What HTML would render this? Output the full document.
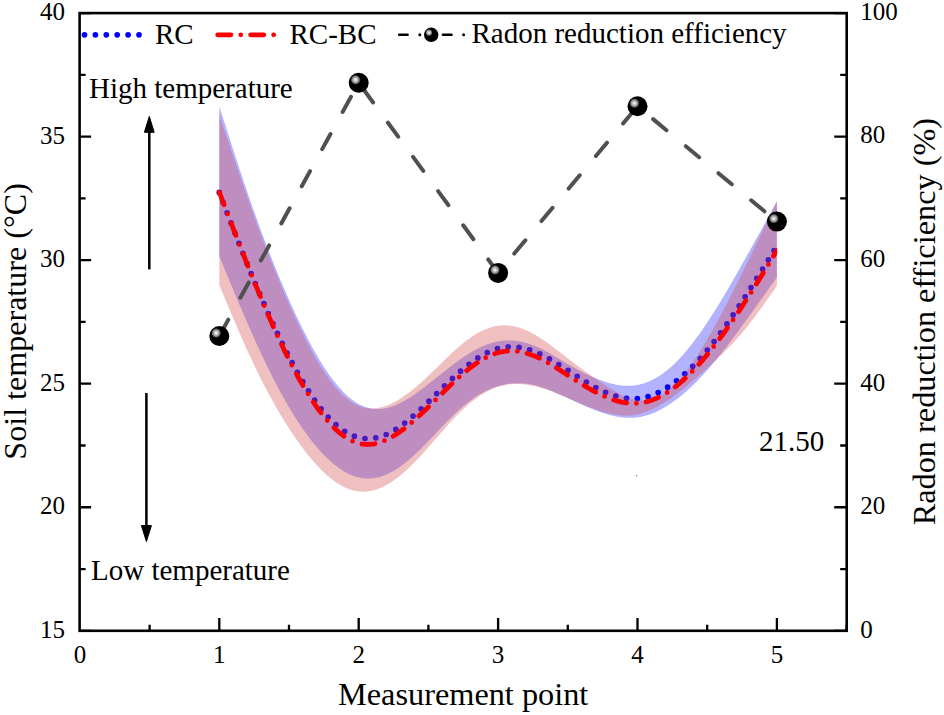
<!DOCTYPE html>
<html><head><meta charset="utf-8"><title>Soil temperature and radon reduction</title>
<style>html,body{margin:0;padding:0;background:#fff;}svg{display:block;}</style></head>
<body><svg width="944" height="715" viewBox="0 0 944 715"><defs>
<radialGradient id="ball" cx="0.345" cy="0.35" r="0.55" fx="0.345" fy="0.35">
<stop offset="0" stop-color="#ffffff"/>
<stop offset="0.12" stop-color="#d8d8d8"/>
<stop offset="0.32" stop-color="#808080"/>
<stop offset="0.45" stop-color="#000000"/>
<stop offset="1" stop-color="#000000"/>
</radialGradient>
<clipPath id="plot"><rect x="79.6" y="13.1" width="767.1" height="617.7"/></clipPath>
<clipPath id="lc"><rect x="79.6" y="13.1" width="697.6" height="617.7"/></clipPath>
</defs><rect x="0" y="0" width="944" height="715" fill="#fff"/><g clip-path="url(#plot)"><path d="M219.30,106.38 220.70,110.74 222.09,115.10 223.49,119.46 224.89,123.82 226.29,128.17 227.68,132.52 229.08,136.85 230.48,141.18 231.88,145.49 233.27,149.80 234.67,154.08 236.07,158.36 237.47,162.62 238.86,166.86 240.26,171.08 241.66,175.28 243.06,179.45 244.45,183.61 245.85,187.74 247.25,191.84 248.65,195.92 250.04,199.97 251.44,203.98 252.84,207.97 254.24,211.92 255.63,215.84 257.03,219.73 258.43,223.58 259.83,227.39 261.22,231.18 262.62,234.93 264.02,238.64 265.42,242.33 266.81,245.98 268.21,249.60 269.61,253.18 271.01,256.74 272.40,260.26 273.80,263.75 275.20,267.21 276.60,270.64 277.99,274.03 279.39,277.40 280.79,280.73 282.19,284.03 283.58,287.30 284.98,290.54 286.38,293.76 287.78,296.94 289.17,300.09 290.57,303.21 291.97,306.30 293.37,309.36 294.76,312.39 296.16,315.38 297.56,318.34 298.96,321.27 300.35,324.16 301.75,327.02 303.15,329.84 304.55,332.62 305.94,335.36 307.34,338.06 308.74,340.73 310.14,343.35 311.53,345.93 312.93,348.47 314.33,350.97 315.73,353.43 317.12,355.84 318.52,358.20 319.92,360.52 321.32,362.79 322.71,365.02 324.11,367.19 325.51,369.32 326.91,371.40 328.30,373.43 329.70,375.41 331.10,377.33 332.50,379.21 333.89,381.03 335.29,382.80 336.69,384.52 338.09,386.18 339.48,387.79 340.88,389.34 342.28,390.83 343.68,392.27 345.07,393.66 346.47,394.98 347.87,396.25 349.27,397.46 350.66,398.61 352.06,399.70 353.46,400.72 354.86,401.69 356.25,402.60 357.65,403.44 359.05,404.22 360.45,404.94 361.84,405.60 363.24,406.19 364.64,406.73 366.04,407.20 367.43,407.62 368.83,407.98 370.23,408.29 371.63,408.53 373.02,408.73 374.42,408.87 375.82,408.96 377.22,408.99 378.61,408.98 380.01,408.91 381.41,408.80 382.81,408.64 384.20,408.43 385.60,408.18 387.00,407.88 388.40,407.53 389.79,407.15 391.19,406.72 392.59,406.25 393.99,405.74 395.38,405.18 396.78,404.60 398.18,403.97 399.58,403.31 400.97,402.62 402.37,401.89 403.77,401.13 405.17,400.34 406.56,399.53 407.96,398.68 409.36,397.81 410.76,396.91 412.15,396.00 413.55,395.06 414.95,394.09 416.35,393.11 417.74,392.11 419.14,391.10 420.54,390.07 421.94,389.02 423.33,387.96 424.73,386.89 426.13,385.82 427.53,384.73 428.92,383.63 430.32,382.53 431.72,381.42 433.12,380.31 434.51,379.20 435.91,378.08 437.31,376.96 438.71,375.85 440.10,374.73 441.50,373.62 442.90,372.50 444.30,371.40 445.69,370.30 447.09,369.20 448.49,368.11 449.89,367.03 451.28,365.96 452.68,364.89 454.08,363.84 455.48,362.81 456.87,361.78 458.27,360.77 459.67,359.77 461.07,358.80 462.46,357.83 463.86,356.89 465.26,355.97 466.66,355.06 468.05,354.18 469.45,353.31 470.85,352.47 472.25,351.65 473.64,350.86 475.04,350.09 476.44,349.34 477.84,348.62 479.23,347.92 480.63,347.25 482.03,346.61 483.43,346.00 484.82,345.41 486.22,344.85 487.62,344.33 489.02,343.83 490.41,343.37 491.81,342.93 493.21,342.53 494.61,342.16 496.00,341.83 497.40,341.53 498.80,341.26 500.20,341.03 501.59,340.84 502.99,340.68 504.39,340.55 505.79,340.46 507.18,340.40 508.58,340.38 509.98,340.39 511.38,340.44 512.77,340.51 514.17,340.62 515.57,340.76 516.97,340.94 518.36,341.15 519.76,341.39 521.16,341.66 522.56,341.96 523.95,342.29 525.35,342.65 526.75,343.05 528.15,343.47 529.54,343.93 530.94,344.41 532.34,344.93 533.74,345.47 535.13,346.05 536.53,346.65 537.93,347.27 539.33,347.92 540.72,348.59 542.12,349.29 543.52,350.00 544.92,350.73 546.31,351.48 547.71,352.24 549.11,353.02 550.51,353.81 551.90,354.61 553.30,355.42 554.70,356.24 556.10,357.06 557.49,357.89 558.89,358.73 560.29,359.56 561.69,360.40 563.08,361.24 564.48,362.07 565.88,362.90 567.28,363.72 568.67,364.54 570.07,365.35 571.47,366.16 572.87,366.95 574.26,367.74 575.66,368.51 577.06,369.28 578.46,370.03 579.85,370.78 581.25,371.51 582.65,372.23 584.05,372.94 585.44,373.64 586.84,374.32 588.24,374.99 589.64,375.64 591.03,376.28 592.43,376.91 593.83,377.51 595.23,378.11 596.62,378.68 598.02,379.24 599.42,379.78 600.82,380.30 602.21,380.80 603.61,381.29 605.01,381.75 606.41,382.19 607.80,382.61 609.20,383.01 610.60,383.39 612.00,383.74 613.39,384.07 614.79,384.37 616.19,384.64 617.59,384.88 618.98,385.10 620.38,385.29 621.78,385.45 623.18,385.57 624.57,385.67 625.97,385.73 627.37,385.76 628.77,385.76 630.16,385.72 631.56,385.64 632.96,385.53 634.36,385.38 635.75,385.19 637.15,384.96 638.55,384.69 639.95,384.38 641.34,384.03 642.74,383.64 644.14,383.21 645.54,382.74 646.93,382.22 648.33,381.67 649.73,381.08 651.13,380.44 652.52,379.77 653.92,379.05 655.32,378.29 656.72,377.49 658.11,376.65 659.51,375.77 660.91,374.85 662.31,373.88 663.70,372.88 665.10,371.83 666.50,370.74 667.90,369.61 669.29,368.44 670.69,367.22 672.09,365.97 673.49,364.67 674.88,363.33 676.28,361.95 677.68,360.53 679.08,359.07 680.47,357.58 681.87,356.04 683.27,354.47 684.67,352.86 686.06,351.22 687.46,349.54 688.86,347.82 690.26,346.08 691.65,344.30 693.05,342.49 694.45,340.64 695.85,338.77 697.24,336.87 698.64,334.94 700.04,332.98 701.44,330.99 702.83,328.97 704.23,326.93 705.63,324.86 707.03,322.77 708.42,320.65 709.82,318.51 711.22,316.35 712.62,314.16 714.01,311.96 715.41,309.73 716.81,307.48 718.21,305.22 719.60,302.94 721.00,300.63 722.40,298.32 723.80,295.98 725.19,293.63 726.59,291.27 727.99,288.89 729.39,286.50 730.78,284.10 732.18,281.68 733.58,279.26 734.98,276.82 736.37,274.38 737.77,271.92 739.17,269.46 740.57,266.99 741.96,264.52 743.36,262.03 744.76,259.55 746.16,257.06 747.55,254.56 748.95,252.06 750.35,249.55 751.75,247.04 753.14,244.53 754.54,242.01 755.94,239.49 757.34,236.96 758.73,234.43 760.13,231.90 761.53,229.37 762.93,226.83 764.32,224.29 765.72,221.75 767.12,219.21 768.52,216.66 769.91,214.12 771.31,211.57 772.71,209.02 774.11,206.47 775.50,203.92 776.90,201.37 L776.90,277.19 775.50,279.17 774.11,281.15 772.71,283.13 771.31,285.11 769.91,287.09 768.52,289.07 767.12,291.04 765.72,293.02 764.32,294.99 762.93,296.96 761.53,298.93 760.13,300.90 758.73,302.86 757.34,304.82 755.94,306.78 754.54,308.73 753.14,310.68 751.75,312.63 750.35,314.57 748.95,316.51 747.55,318.44 746.16,320.37 744.76,322.29 743.36,324.21 741.96,326.12 740.57,328.03 739.17,329.93 737.77,331.83 736.37,333.71 734.98,335.59 733.58,337.46 732.18,339.32 730.78,341.17 729.39,343.01 727.99,344.83 726.59,346.65 725.19,348.45 723.80,350.24 722.40,352.02 721.00,353.78 719.60,355.53 718.21,357.26 716.81,358.98 715.41,360.68 714.01,362.36 712.62,364.02 711.22,365.66 709.82,367.29 708.42,368.89 707.03,370.48 705.63,372.04 704.23,373.58 702.83,375.11 701.44,376.60 700.04,378.08 698.64,379.54 697.24,380.97 695.85,382.38 694.45,383.76 693.05,385.13 691.65,386.46 690.26,387.78 688.86,389.07 687.46,390.34 686.06,391.58 684.67,392.80 683.27,393.99 681.87,395.16 680.47,396.30 679.08,397.41 677.68,398.50 676.28,399.57 674.88,400.61 673.49,401.62 672.09,402.60 670.69,403.56 669.29,404.48 667.90,405.38 666.50,406.26 665.10,407.10 663.70,407.91 662.31,408.70 660.91,409.45 659.51,410.18 658.11,410.87 656.72,411.54 655.32,412.17 653.92,412.77 652.52,413.34 651.13,413.88 649.73,414.38 648.33,414.85 646.93,415.29 645.54,415.70 644.14,416.07 642.74,416.40 641.34,416.70 639.95,416.97 638.55,417.20 637.15,417.39 635.75,417.55 634.36,417.68 632.96,417.76 631.56,417.82 630.16,417.84 628.77,417.84 627.37,417.80 625.97,417.73 624.57,417.63 623.18,417.50 621.78,417.34 620.38,417.16 618.98,416.95 617.59,416.72 616.19,416.46 614.79,416.18 613.39,415.87 612.00,415.55 610.60,415.20 609.20,414.83 607.80,414.44 606.41,414.03 605.01,413.61 603.61,413.16 602.21,412.70 600.82,412.23 599.42,411.74 598.02,411.23 596.62,410.72 595.23,410.19 593.83,409.64 592.43,409.09 591.03,408.52 589.64,407.95 588.24,407.36 586.84,406.76 585.44,406.16 584.05,405.55 582.65,404.93 581.25,404.31 579.85,403.68 578.46,403.04 577.06,402.41 575.66,401.76 574.26,401.12 572.87,400.47 571.47,399.82 570.07,399.17 568.67,398.52 567.28,397.87 565.88,397.22 564.48,396.57 563.08,395.93 561.69,395.29 560.29,394.65 558.89,394.03 557.49,393.41 556.10,392.79 554.70,392.19 553.30,391.60 551.90,391.02 550.51,390.46 549.11,389.90 547.71,389.36 546.31,388.84 544.92,388.34 543.52,387.85 542.12,387.39 540.72,386.94 539.33,386.51 537.93,386.11 536.53,385.73 535.13,385.37 533.74,385.05 532.34,384.74 530.94,384.47 529.54,384.22 528.15,384.00 526.75,383.80 525.35,383.64 523.95,383.50 522.56,383.39 521.16,383.31 519.76,383.26 518.36,383.24 516.97,383.24 515.57,383.27 514.17,383.33 512.77,383.43 511.38,383.55 509.98,383.70 508.58,383.87 507.18,384.08 505.79,384.32 504.39,384.59 502.99,384.89 501.59,385.21 500.20,385.57 498.80,385.96 497.40,386.38 496.00,386.83 494.61,387.31 493.21,387.82 491.81,388.36 490.41,388.93 489.02,389.53 487.62,390.17 486.22,390.83 484.82,391.52 483.43,392.25 482.03,393.00 480.63,393.79 479.23,394.61 477.84,395.46 476.44,396.34 475.04,397.24 473.64,398.19 472.25,399.16 470.85,400.16 469.45,401.19 468.05,402.26 466.66,403.35 465.26,404.48 463.86,405.64 462.46,406.82 461.07,408.04 459.67,409.29 458.27,410.56 456.87,411.86 455.48,413.18 454.08,414.53 452.68,415.89 451.28,417.28 449.89,418.68 448.49,420.09 447.09,421.52 445.69,422.96 444.30,424.42 442.90,425.88 441.50,427.34 440.10,428.82 438.71,430.30 437.31,431.78 435.91,433.26 434.51,434.74 433.12,436.21 431.72,437.69 430.32,439.15 428.92,440.61 427.53,442.06 426.13,443.50 424.73,444.93 423.33,446.34 421.94,447.74 420.54,449.13 419.14,450.49 417.74,451.84 416.35,453.17 414.95,454.48 413.55,455.77 412.15,457.03 410.76,458.27 409.36,459.48 407.96,460.67 406.56,461.83 405.17,462.95 403.77,464.05 402.37,465.12 400.97,466.15 399.58,467.14 398.18,468.11 396.78,469.03 395.38,469.91 393.99,470.76 392.59,471.56 391.19,472.33 389.79,473.05 388.40,473.73 387.00,474.36 385.60,474.95 384.20,475.50 382.81,476.01 381.41,476.47 380.01,476.89 378.61,477.26 377.22,477.58 375.82,477.86 374.42,478.10 373.02,478.29 371.63,478.43 370.23,478.53 368.83,478.58 367.43,478.58 366.04,478.53 364.64,478.43 363.24,478.29 361.84,478.10 360.45,477.85 359.05,477.56 357.65,477.22 356.25,476.83 354.86,476.38 353.46,475.89 352.06,475.36 350.66,474.77 349.27,474.14 347.87,473.45 346.47,472.73 345.07,471.95 343.68,471.13 342.28,470.27 340.88,469.36 339.48,468.41 338.09,467.41 336.69,466.37 335.29,465.28 333.89,464.16 332.50,462.99 331.10,461.78 329.70,460.53 328.30,459.24 326.91,457.91 325.51,456.54 324.11,455.13 322.71,453.68 321.32,452.19 319.92,450.66 318.52,449.10 317.12,447.50 315.73,445.86 314.33,444.18 312.93,442.46 311.53,440.71 310.14,438.91 308.74,437.08 307.34,435.22 305.94,433.31 304.55,431.37 303.15,429.39 301.75,427.37 300.35,425.31 298.96,423.22 297.56,421.10 296.16,418.93 294.76,416.73 293.37,414.49 291.97,412.21 290.57,409.90 289.17,407.55 287.78,405.17 286.38,402.75 284.98,400.30 283.58,397.81 282.19,395.28 280.79,392.72 279.39,390.13 277.99,387.51 276.60,384.85 275.20,382.17 273.80,379.45 272.40,376.70 271.01,373.93 269.61,371.12 268.21,368.28 266.81,365.42 265.42,362.53 264.02,359.61 262.62,356.67 261.22,353.70 259.83,350.70 258.43,347.68 257.03,344.64 255.63,341.57 254.24,338.47 252.84,335.36 251.44,332.22 250.04,329.07 248.65,325.89 247.25,322.69 245.85,319.48 244.45,316.25 243.06,313.00 241.66,309.74 240.26,306.46 238.86,303.17 237.47,299.86 236.07,296.54 234.67,293.22 233.27,289.88 231.88,286.53 230.48,283.18 229.08,279.82 227.68,276.45 226.29,273.08 224.89,269.70 223.49,266.32 222.09,262.93 220.70,259.55 219.30,256.16 Z" fill="rgb(0,0,255)" fill-opacity="0.3"/><path clip-path="url(#lc)" d="M219.30,192.42 220.70,196.06 222.09,199.70 223.49,203.34 224.89,206.97 226.29,210.60 227.68,214.23 229.08,217.85 230.48,221.46 231.88,225.07 233.27,228.67 234.67,232.26 236.07,235.84 237.47,239.41 238.86,242.97 240.26,246.51 241.66,250.04 243.06,253.56 244.45,257.06 245.85,260.54 247.25,264.01 248.65,267.46 250.04,270.88 251.44,274.29 252.84,277.68 254.24,281.05 255.63,284.39 257.03,287.71 258.43,291.01 259.83,294.28 261.22,297.53 262.62,300.76 264.02,303.96 265.42,307.13 266.81,310.28 268.21,313.41 269.61,316.51 271.01,319.58 272.40,322.62 273.80,325.64 275.20,328.63 276.60,331.60 277.99,334.53 279.39,337.44 280.79,340.32 282.19,343.17 283.58,346.00 284.98,348.79 286.38,351.55 287.78,354.28 289.17,356.99 290.57,359.66 291.97,362.30 293.37,364.90 294.76,367.48 296.16,370.02 297.56,372.52 298.96,374.99 300.35,377.43 301.75,379.82 303.15,382.18 304.55,384.50 305.94,386.78 307.34,389.02 308.74,391.22 310.14,393.37 311.53,395.48 312.93,397.55 314.33,399.57 315.73,401.55 317.12,403.48 318.52,405.37 319.92,407.20 321.32,408.99 322.71,410.73 324.11,412.41 325.51,414.05 326.91,415.63 328.30,417.17 329.70,418.65 331.10,420.08 332.50,421.45 333.89,422.78 335.29,424.05 336.69,425.27 338.09,426.44 339.48,427.56 340.88,428.62 342.28,429.63 343.68,430.59 345.07,431.49 346.47,432.34 347.87,433.14 349.27,433.88 350.66,434.57 352.06,435.20 353.46,435.78 354.86,436.31 356.25,436.78 357.65,437.20 359.05,437.56 360.45,437.87 361.84,438.12 363.24,438.33 364.64,438.47 366.04,438.57 367.43,438.61 368.83,438.61 370.23,438.55 371.63,438.44 373.02,438.28 374.42,438.08 375.82,437.83 377.22,437.53 378.61,437.18 380.01,436.79 381.41,436.36 382.81,435.88 384.20,435.35 385.60,434.78 387.00,434.17 388.40,433.52 389.79,432.82 391.19,432.09 392.59,431.31 393.99,430.50 395.38,429.65 396.78,428.76 398.18,427.83 399.58,426.87 400.97,425.87 402.37,424.85 403.77,423.79 405.17,422.71 406.56,421.60 407.96,420.46 409.36,419.30 410.76,418.11 412.15,416.90 413.55,415.67 414.95,414.43 416.35,413.16 417.74,411.88 419.14,410.58 420.54,409.27 421.94,407.95 423.33,406.62 424.73,405.28 426.13,403.93 427.53,402.57 428.92,401.21 430.32,399.84 431.72,398.47 433.12,397.10 434.51,395.73 435.91,394.35 437.31,392.98 438.71,391.61 440.10,390.24 441.50,388.88 442.90,387.52 444.30,386.17 445.69,384.82 447.09,383.48 448.49,382.15 449.89,380.83 451.28,379.52 452.68,378.22 454.08,376.94 455.48,375.66 456.87,374.41 458.27,373.16 459.67,371.94 461.07,370.73 462.46,369.54 463.86,368.36 465.26,367.21 466.66,366.08 468.05,364.97 469.45,363.89 470.85,362.83 472.25,361.79 473.64,360.78 475.04,359.80 476.44,358.84 477.84,357.91 479.23,357.02 480.63,356.15 482.03,355.32 483.43,354.52 484.82,353.76 486.22,353.02 487.62,352.33 489.02,351.67 490.41,351.05 491.81,350.47 493.21,349.93 494.61,349.43 496.00,348.97 497.40,348.55 498.80,348.18 500.20,347.85 501.59,347.57 502.99,347.32 504.39,347.12 505.79,346.97 507.18,346.85 508.58,346.77 509.98,346.73 511.38,346.73 512.77,346.77 514.17,346.84 515.57,346.95 516.97,347.10 518.36,347.28 519.76,347.50 521.16,347.75 522.56,348.03 523.95,348.35 525.35,348.70 526.75,349.08 528.15,349.49 529.54,349.93 530.94,350.40 532.34,350.89 533.74,351.42 535.13,351.97 536.53,352.55 537.93,353.16 539.33,353.78 540.72,354.43 542.12,355.11 543.52,355.80 544.92,356.52 546.31,357.25 547.71,358.00 549.11,358.77 550.51,359.55 551.90,360.35 553.30,361.17 554.70,361.99 556.10,362.83 557.49,363.68 558.89,364.54 560.29,365.41 561.69,366.29 563.08,367.17 564.48,368.06 565.88,368.96 567.28,369.86 568.67,370.76 570.07,371.66 571.47,372.57 572.87,373.48 574.26,374.38 575.66,375.28 577.06,376.19 578.46,377.08 579.85,377.97 581.25,378.86 582.65,379.74 584.05,380.61 585.44,381.47 586.84,382.32 588.24,383.16 589.64,383.99 591.03,384.81 592.43,385.61 593.83,386.40 595.23,387.17 596.62,387.93 598.02,388.66 599.42,389.38 600.82,390.08 602.21,390.75 603.61,391.41 605.01,392.04 606.41,392.65 607.80,393.23 609.20,393.79 610.60,394.33 612.00,394.84 613.39,395.32 614.79,395.77 616.19,396.19 617.59,396.59 618.98,396.95 620.38,397.28 621.78,397.58 623.18,397.85 624.57,398.09 625.97,398.29 627.37,398.46 628.77,398.59 630.16,398.69 631.56,398.75 632.96,398.77 634.36,398.76 635.75,398.70 637.15,398.61 638.55,398.47 639.95,398.30 641.34,398.09 642.74,397.83 644.14,397.54 645.54,397.21 646.93,396.84 648.33,396.43 649.73,395.99 651.13,395.51 652.52,394.99 653.92,394.44 655.32,393.85 656.72,393.23 658.11,392.57 659.51,391.88 660.91,391.15 662.31,390.39 663.70,389.60 665.10,388.77 666.50,387.92 667.90,387.03 669.29,386.11 670.69,385.16 672.09,384.18 673.49,383.17 674.88,382.13 676.28,381.06 677.68,379.97 679.08,378.84 680.47,377.68 681.87,376.50 683.27,375.29 684.67,374.04 686.06,372.77 687.46,371.47 688.86,370.15 690.26,368.79 691.65,367.41 693.05,366.00 694.45,364.56 695.85,363.10 697.24,361.60 698.64,360.09 700.04,358.54 701.44,356.97 702.83,355.37 704.23,353.74 705.63,352.09 707.03,350.41 708.42,348.70 709.82,346.97 711.22,345.22 712.62,343.44 714.01,341.64 715.41,339.81 716.81,337.96 718.21,336.09 719.60,334.20 721.00,332.29 722.40,330.36 723.80,328.41 725.19,326.44 726.59,324.46 727.99,322.45 729.39,320.43 730.78,318.40 732.18,316.35 733.58,314.28 734.98,312.21 736.37,310.11 737.77,308.01 739.17,305.89 740.57,303.76 741.96,301.63 743.36,299.48 744.76,297.32 746.16,295.15 747.55,292.98 748.95,290.79 750.35,288.60 751.75,286.40 753.14,284.19 754.54,281.98 755.94,279.76 757.34,277.53 758.73,275.30 760.13,273.06 761.53,270.82 762.93,268.57 764.32,266.32 765.72,264.07 767.12,261.81 768.52,259.55 769.91,257.29 771.31,255.03 772.71,252.76 774.11,250.49 775.50,248.22 776.90,245.96" fill="none" stroke="#0000ff" stroke-width="5.7" stroke-linecap="round" stroke-dasharray="0 10.9"/><path d="M219.30,114.97 220.70,119.14 222.09,123.30 223.49,127.47 224.89,131.63 226.29,135.79 227.68,139.95 229.08,144.10 230.48,148.24 231.88,152.37 233.27,156.49 234.67,160.61 236.07,164.71 237.47,168.80 238.86,172.88 240.26,176.94 241.66,180.99 243.06,185.02 244.45,189.03 245.85,193.03 247.25,197.00 248.65,200.96 250.04,204.89 251.44,208.80 252.84,212.69 254.24,216.56 255.63,220.39 257.03,224.21 258.43,227.99 259.83,231.76 261.22,235.49 262.62,239.20 264.02,242.88 265.42,246.54 266.81,250.17 268.21,253.77 269.61,257.35 271.01,260.90 272.40,264.42 273.80,267.92 275.20,271.38 276.60,274.83 277.99,278.24 279.39,281.62 280.79,284.98 282.19,288.31 283.58,291.61 284.98,294.88 286.38,298.13 287.78,301.34 289.17,304.53 290.57,307.69 291.97,310.81 293.37,313.91 294.76,316.97 296.16,320.00 297.56,323.00 298.96,325.96 300.35,328.89 301.75,331.77 303.15,334.62 304.55,337.43 305.94,340.20 307.34,342.92 308.74,345.60 310.14,348.24 311.53,350.83 312.93,353.38 314.33,355.88 315.73,358.33 317.12,360.73 318.52,363.08 319.92,365.38 321.32,367.63 322.71,369.82 324.11,371.96 325.51,374.04 326.91,376.07 328.30,378.04 329.70,379.95 331.10,381.80 332.50,383.60 333.89,385.34 335.29,387.02 336.69,388.63 338.09,390.19 339.48,391.69 340.88,393.13 342.28,394.50 343.68,395.81 345.07,397.06 346.47,398.25 347.87,399.37 349.27,400.43 350.66,401.43 352.06,402.36 353.46,403.22 354.86,404.02 356.25,404.75 357.65,405.41 359.05,406.01 360.45,406.54 361.84,407.00 363.24,407.40 364.64,407.74 366.04,408.01 367.43,408.22 368.83,408.37 370.23,408.47 371.63,408.50 373.02,408.48 374.42,408.41 375.82,408.28 377.22,408.09 378.61,407.86 380.01,407.58 381.41,407.25 382.81,406.87 384.20,406.44 385.60,405.97 387.00,405.46 388.40,404.91 389.79,404.31 391.19,403.67 392.59,403.00 393.99,402.29 395.38,401.54 396.78,400.76 398.18,399.94 399.58,399.09 400.97,398.20 402.37,397.29 403.77,396.35 405.17,395.37 406.56,394.37 407.96,393.34 409.36,392.28 410.76,391.20 412.15,390.10 413.55,388.97 414.95,387.82 416.35,386.64 417.74,385.45 419.14,384.23 420.54,383.00 421.94,381.75 423.33,380.48 424.73,379.20 426.13,377.90 427.53,376.59 428.92,375.27 430.32,373.93 431.72,372.59 433.12,371.23 434.51,369.87 435.91,368.50 437.31,367.13 438.71,365.76 440.10,364.39 441.50,363.02 442.90,361.65 444.30,360.29 445.69,358.93 447.09,357.58 448.49,356.24 449.89,354.91 451.28,353.60 452.68,352.30 454.08,351.01 455.48,349.75 456.87,348.50 458.27,347.27 459.67,346.07 461.07,344.89 462.46,343.74 463.86,342.61 465.26,341.51 466.66,340.45 468.05,339.41 469.45,338.40 470.85,337.43 472.25,336.48 473.64,335.57 475.04,334.70 476.44,333.86 477.84,333.05 479.23,332.28 480.63,331.55 482.03,330.85 483.43,330.19 484.82,329.57 486.22,328.99 487.62,328.45 489.02,327.95 490.41,327.49 491.81,327.07 493.21,326.70 494.61,326.37 496.00,326.08 497.40,325.84 498.80,325.64 500.20,325.49 501.59,325.39 502.99,325.33 504.39,325.31 505.79,325.34 507.18,325.41 508.58,325.52 509.98,325.67 511.38,325.86 512.77,326.10 514.17,326.37 515.57,326.68 516.97,327.03 518.36,327.42 519.76,327.85 521.16,328.31 522.56,328.81 523.95,329.34 525.35,329.91 526.75,330.51 528.15,331.15 529.54,331.82 530.94,332.52 532.34,333.26 533.74,334.02 535.13,334.82 536.53,335.64 537.93,336.49 539.33,337.37 540.72,338.27 542.12,339.19 543.52,340.13 544.92,341.10 546.31,342.08 547.71,343.08 549.11,344.09 550.51,345.12 551.90,346.16 553.30,347.22 554.70,348.28 556.10,349.35 557.49,350.42 558.89,351.51 560.29,352.59 561.69,353.68 563.08,354.77 564.48,355.85 565.88,356.94 567.28,358.02 568.67,359.10 570.07,360.17 571.47,361.23 572.87,362.29 574.26,363.35 575.66,364.39 577.06,365.44 578.46,366.47 579.85,367.51 581.25,368.53 582.65,369.55 584.05,370.57 585.44,371.57 586.84,372.58 588.24,373.57 589.64,374.57 591.03,375.55 592.43,376.53 593.83,377.51 595.23,378.48 596.62,379.44 598.02,380.40 599.42,381.35 600.82,382.30 602.21,383.24 603.61,384.18 605.01,385.11 606.41,386.03 607.80,386.94 609.20,387.83 610.60,388.71 612.00,389.58 613.39,390.43 614.79,391.25 616.19,392.05 617.59,392.83 618.98,393.58 620.38,394.31 621.78,395.00 623.18,395.66 624.57,396.29 625.97,396.88 627.37,397.43 628.77,397.94 630.16,398.40 631.56,398.83 632.96,399.21 634.36,399.54 635.75,399.81 637.15,400.04 638.55,400.21 639.95,400.33 641.34,400.40 642.74,400.40 644.14,400.35 645.54,400.25 646.93,400.09 648.33,399.87 649.73,399.60 651.13,399.27 652.52,398.88 653.92,398.43 655.32,397.92 656.72,397.36 658.11,396.74 659.51,396.05 660.91,395.31 662.31,394.51 663.70,393.65 665.10,392.73 666.50,391.75 667.90,390.70 669.29,389.60 670.69,388.43 672.09,387.20 673.49,385.91 674.88,384.56 676.28,383.15 677.68,381.68 679.08,380.15 680.47,378.57 681.87,376.94 683.27,375.25 684.67,373.51 686.06,371.71 687.46,369.87 688.86,367.99 690.26,366.05 691.65,364.08 693.05,362.06 694.45,359.99 695.85,357.89 697.24,355.75 698.64,353.57 700.04,351.35 701.44,349.10 702.83,346.82 704.23,344.50 705.63,342.15 707.03,339.78 708.42,337.37 709.82,334.94 711.22,332.48 712.62,330.00 714.01,327.49 715.41,324.96 716.81,322.40 718.21,319.83 719.60,317.23 721.00,314.61 722.40,311.97 723.80,309.31 725.19,306.64 726.59,303.95 727.99,301.24 729.39,298.51 730.78,295.77 732.18,293.02 733.58,290.26 734.98,287.48 736.37,284.69 737.77,281.89 739.17,279.08 740.57,276.27 741.96,273.44 743.36,270.61 744.76,267.77 746.16,264.92 747.55,262.07 748.95,259.21 750.35,256.35 751.75,253.48 753.14,250.60 754.54,247.73 755.94,244.84 757.34,241.95 758.73,239.06 760.13,236.17 761.53,233.27 762.93,230.37 764.32,227.46 765.72,224.55 767.12,221.65 768.52,218.73 769.91,215.82 771.31,212.91 772.71,209.99 774.11,207.07 775.50,204.16 776.90,201.24 L776.90,285.86 775.50,287.86 774.11,289.86 772.71,291.86 771.31,293.86 769.91,295.85 768.52,297.83 767.12,299.81 765.72,301.78 764.32,303.75 762.93,305.70 761.53,307.64 760.13,309.57 758.73,311.48 757.34,313.38 755.94,315.27 754.54,317.13 753.14,318.98 751.75,320.81 750.35,322.62 748.95,324.41 747.55,326.18 746.16,327.92 744.76,329.64 743.36,331.33 741.96,333.00 740.57,334.63 739.17,336.24 737.77,337.83 736.37,339.39 734.98,340.92 733.58,342.44 732.18,343.93 730.78,345.40 729.39,346.85 727.99,348.28 726.59,349.69 725.19,351.09 723.80,352.47 722.40,353.83 721.00,355.19 719.60,356.53 718.21,357.85 716.81,359.17 715.41,360.48 714.01,361.78 712.62,363.07 711.22,364.36 709.82,365.64 708.42,366.91 707.03,368.19 705.63,369.46 704.23,370.72 702.83,371.99 701.44,373.24 700.04,374.50 698.64,375.74 697.24,376.99 695.85,378.22 694.45,379.44 693.05,380.66 691.65,381.87 690.26,383.07 688.86,384.25 687.46,385.43 686.06,386.60 684.67,387.75 683.27,388.89 681.87,390.01 680.47,391.12 679.08,392.22 677.68,393.30 676.28,394.36 674.88,395.41 673.49,396.44 672.09,397.45 670.69,398.44 669.29,399.41 667.90,400.36 666.50,401.29 665.10,402.20 663.70,403.08 662.31,403.94 660.91,404.78 659.51,405.59 658.11,406.37 656.72,407.13 655.32,407.86 653.92,408.56 652.52,409.23 651.13,409.87 649.73,410.48 648.33,411.06 646.93,411.61 645.54,412.12 644.14,412.60 642.74,413.05 641.34,413.46 639.95,413.83 638.55,414.16 637.15,414.46 635.75,414.72 634.36,414.94 632.96,415.13 631.56,415.28 630.16,415.39 628.77,415.47 627.37,415.52 625.97,415.54 624.57,415.52 623.18,415.47 621.78,415.39 620.38,415.29 618.98,415.15 617.59,414.99 616.19,414.80 614.79,414.59 613.39,414.35 612.00,414.09 610.60,413.80 609.20,413.49 607.80,413.16 606.41,412.81 605.01,412.44 603.61,412.05 602.21,411.64 600.82,411.21 599.42,410.77 598.02,410.31 596.62,409.84 595.23,409.35 593.83,408.85 592.43,408.34 591.03,407.82 589.64,407.28 588.24,406.73 586.84,406.18 585.44,405.61 584.05,405.04 582.65,404.46 581.25,403.88 579.85,403.29 578.46,402.69 577.06,402.10 575.66,401.49 574.26,400.89 572.87,400.28 571.47,399.68 570.07,399.07 568.67,398.47 567.28,397.87 565.88,397.27 564.48,396.67 563.08,396.08 561.69,395.49 560.29,394.91 558.89,394.33 557.49,393.76 556.10,393.20 554.70,392.65 553.30,392.11 551.90,391.58 550.51,391.06 549.11,390.55 547.71,390.06 546.31,389.58 544.92,389.11 543.52,388.66 542.12,388.23 540.72,387.81 539.33,387.41 537.93,387.03 536.53,386.67 535.13,386.32 533.74,386.00 532.34,385.70 530.94,385.43 529.54,385.17 528.15,384.94 526.75,384.73 525.35,384.55 523.95,384.39 522.56,384.26 521.16,384.16 519.76,384.09 518.36,384.04 516.97,384.02 515.57,384.03 514.17,384.07 512.77,384.14 511.38,384.24 509.98,384.37 508.58,384.54 507.18,384.74 505.79,384.97 504.39,385.24 502.99,385.54 501.59,385.88 500.20,386.25 498.80,386.66 497.40,387.11 496.00,387.59 494.61,388.12 493.21,388.68 491.81,389.27 490.41,389.90 489.02,390.57 487.62,391.28 486.22,392.02 484.82,392.80 483.43,393.61 482.03,394.46 480.63,395.34 479.23,396.26 477.84,397.21 476.44,398.19 475.04,399.21 473.64,400.26 472.25,401.34 470.85,402.46 469.45,403.61 468.05,404.79 466.66,406.01 465.26,407.25 463.86,408.53 462.46,409.84 461.07,411.18 459.67,412.55 458.27,413.94 456.87,415.36 455.48,416.81 454.08,418.28 452.68,419.76 451.28,421.27 449.89,422.79 448.49,424.33 447.09,425.88 445.69,427.45 444.30,429.02 442.90,430.61 441.50,432.20 440.10,433.80 438.71,435.40 437.31,437.01 435.91,438.62 434.51,440.22 433.12,441.83 431.72,443.43 430.32,445.02 428.92,446.61 427.53,448.19 426.13,449.76 424.73,451.31 423.33,452.86 421.94,454.39 420.54,455.91 419.14,457.41 417.74,458.89 416.35,460.36 414.95,461.80 413.55,463.23 412.15,464.63 410.76,466.01 409.36,467.36 407.96,468.69 406.56,470.00 405.17,471.27 403.77,472.52 402.37,473.73 400.97,474.92 399.58,476.07 398.18,477.18 396.78,478.27 395.38,479.31 393.99,480.32 392.59,481.29 391.19,482.22 389.79,483.11 388.40,483.96 387.00,484.76 385.60,485.53 384.20,486.26 382.81,486.94 381.41,487.58 380.01,488.17 378.61,488.72 377.22,489.23 375.82,489.69 374.42,490.10 373.02,490.47 371.63,490.79 370.23,491.07 368.83,491.29 367.43,491.47 366.04,491.60 364.64,491.68 363.24,491.71 361.84,491.69 360.45,491.61 359.05,491.49 357.65,491.31 356.25,491.08 354.86,490.80 353.46,490.47 352.06,490.09 350.66,489.66 349.27,489.18 347.87,488.65 346.47,488.07 345.07,487.45 343.68,486.77 342.28,486.05 340.88,485.28 339.48,484.47 338.09,483.61 336.69,482.71 335.29,481.76 333.89,480.76 332.50,479.73 331.10,478.65 329.70,477.53 328.30,476.36 326.91,475.16 325.51,473.91 324.11,472.62 322.71,471.29 321.32,469.92 319.92,468.52 318.52,467.07 317.12,465.59 315.73,464.06 314.33,462.51 312.93,460.91 311.53,459.28 310.14,457.61 308.74,455.90 307.34,454.17 305.94,452.39 304.55,450.59 303.15,448.75 301.75,446.87 300.35,444.97 298.96,443.03 297.56,441.06 296.16,439.06 294.76,437.03 293.37,434.97 291.97,432.88 290.57,430.76 289.17,428.62 287.78,426.44 286.38,424.24 284.98,422.01 283.58,419.75 282.19,417.46 280.79,415.14 279.39,412.79 277.99,410.41 276.60,408.01 275.20,405.57 273.80,403.10 272.40,400.61 271.01,398.08 269.61,395.52 268.21,392.93 266.81,390.31 265.42,387.66 264.02,384.97 262.62,382.26 261.22,379.51 259.83,376.73 258.43,373.92 257.03,371.07 255.63,368.19 254.24,365.28 252.84,362.34 251.44,359.36 250.04,356.35 248.65,353.31 247.25,350.25 245.85,347.16 244.45,344.04 243.06,340.90 241.66,337.73 240.26,334.54 238.86,331.34 237.47,328.11 236.07,324.87 234.67,321.61 233.27,318.34 231.88,315.05 230.48,311.75 229.08,308.44 227.68,305.12 226.29,301.80 224.89,298.46 223.49,295.12 222.09,291.78 220.70,288.43 219.30,285.09 Z" fill="rgb(212,75,75)" fill-opacity="0.35"/><path clip-path="url(#lc)" d="M219.30,192.36 220.70,196.00 222.09,199.64 223.49,203.28 224.89,206.92 226.29,210.55 227.68,214.18 229.08,217.81 230.48,221.43 231.88,225.04 233.27,228.65 234.67,232.26 236.07,235.85 237.47,239.44 238.86,243.02 240.26,246.59 241.66,250.15 243.06,253.70 244.45,257.23 245.85,260.76 247.25,264.27 248.65,267.77 250.04,271.25 251.44,274.72 252.84,278.17 254.24,281.61 255.63,285.03 257.03,288.44 258.43,291.82 259.83,295.18 261.22,298.53 262.62,301.85 264.02,305.16 265.42,308.44 266.81,311.69 268.21,314.93 269.61,318.14 271.01,321.32 272.40,324.48 273.80,327.61 275.20,330.71 276.60,333.79 277.99,336.83 279.39,339.85 280.79,342.83 282.19,345.79 283.58,348.71 284.98,351.59 286.38,354.45 287.78,357.27 289.17,360.05 290.57,362.80 291.97,365.51 293.37,368.19 294.76,370.83 296.16,373.42 297.56,375.99 298.96,378.51 300.35,380.99 301.75,383.43 303.15,385.84 304.55,388.20 305.94,390.52 307.34,392.80 308.74,395.04 310.14,397.24 311.53,399.39 312.93,401.50 314.33,403.56 315.73,405.59 317.12,407.56 318.52,409.49 319.92,411.38 321.32,413.22 322.71,415.01 324.11,416.76 325.51,418.46 326.91,420.11 328.30,421.71 329.70,423.26 331.10,424.77 332.50,426.22 333.89,427.62 335.29,428.97 336.69,430.27 338.09,431.51 339.48,432.71 340.88,433.84 342.28,434.93 343.68,435.95 345.07,436.93 346.47,437.84 347.87,438.70 349.27,439.50 350.66,440.25 352.06,440.93 353.46,441.56 354.86,442.12 356.25,442.63 357.65,443.07 359.05,443.45 360.45,443.77 361.84,444.03 363.24,444.23 364.64,444.37 366.04,444.45 367.43,444.48 368.83,444.45 370.23,444.37 371.63,444.23 373.02,444.05 374.42,443.81 375.82,443.52 377.22,443.18 378.61,442.80 380.01,442.37 381.41,441.89 382.81,441.37 384.20,440.80 385.60,440.20 387.00,439.55 388.40,438.86 389.79,438.14 391.19,437.37 392.59,436.57 393.99,435.73 395.38,434.86 396.78,433.96 398.18,433.02 399.58,432.05 400.97,431.05 402.37,430.03 403.77,428.97 405.17,427.89 406.56,426.78 407.96,425.65 409.36,424.49 410.76,423.32 412.15,422.12 413.55,420.90 414.95,419.66 416.35,418.40 417.74,417.13 419.14,415.84 420.54,414.53 421.94,413.21 423.33,411.88 424.73,410.54 426.13,409.19 427.53,407.83 428.92,406.46 430.32,405.08 431.72,403.70 433.12,402.31 434.51,400.92 435.91,399.53 437.31,398.13 438.71,396.74 440.10,395.35 441.50,393.96 442.90,392.57 444.30,391.18 445.69,389.81 447.09,388.44 448.49,387.08 449.89,385.72 451.28,384.38 452.68,383.05 454.08,381.73 455.48,380.43 456.87,379.14 458.27,377.86 459.67,376.61 461.07,375.37 462.46,374.15 463.86,372.95 465.26,371.78 466.66,370.62 468.05,369.50 469.45,368.39 470.85,367.31 472.25,366.26 473.64,365.23 475.04,364.24 476.44,363.27 477.84,362.33 479.23,361.42 480.63,360.55 482.03,359.70 483.43,358.89 484.82,358.12 486.22,357.38 487.62,356.67 489.02,356.01 490.41,355.38 491.81,354.79 493.21,354.24 494.61,353.73 496.00,353.26 497.40,352.84 498.80,352.46 500.20,352.12 501.59,351.82 502.99,351.57 504.39,351.36 505.79,351.19 507.18,351.07 508.58,350.98 509.98,350.93 511.38,350.92 512.77,350.96 514.17,351.02 515.57,351.13 516.97,351.28 518.36,351.46 519.76,351.67 521.16,351.93 522.56,352.21 523.95,352.54 525.35,352.89 526.75,353.28 528.15,353.70 529.54,354.16 530.94,354.64 532.34,355.16 533.74,355.71 535.13,356.29 536.53,356.90 537.93,357.53 539.33,358.19 540.72,358.87 542.12,359.58 543.52,360.31 544.92,361.06 546.31,361.83 547.71,362.62 549.11,363.43 550.51,364.25 551.90,365.09 553.30,365.93 554.70,366.80 556.10,367.67 557.49,368.55 558.89,369.44 560.29,370.33 561.69,371.24 563.08,372.14 564.48,373.05 565.88,373.96 567.28,374.87 568.67,375.78 570.07,376.69 571.47,377.60 572.87,378.50 574.26,379.40 575.66,380.29 577.06,381.18 578.46,382.06 579.85,382.93 581.25,383.80 582.65,384.66 584.05,385.51 585.44,386.35 586.84,387.17 588.24,387.99 589.64,388.79 591.03,389.58 592.43,390.36 593.83,391.12 595.23,391.87 596.62,392.60 598.02,393.31 599.42,394.01 600.82,394.68 602.21,395.34 603.61,395.98 605.01,396.60 606.41,397.19 607.80,397.77 609.20,398.32 610.60,398.84 612.00,399.34 613.39,399.82 614.79,400.27 616.19,400.69 617.59,401.09 618.98,401.46 620.38,401.79 621.78,402.10 623.18,402.38 624.57,402.62 625.97,402.83 627.37,403.01 628.77,403.15 630.16,403.26 631.56,403.34 632.96,403.38 634.36,403.38 635.75,403.34 637.15,403.26 638.55,403.15 639.95,402.99 641.34,402.80 642.74,402.56 644.14,402.29 645.54,401.98 646.93,401.63 648.33,401.24 649.73,400.82 651.13,400.35 652.52,399.86 653.92,399.32 655.32,398.75 656.72,398.14 658.11,397.49 659.51,396.81 660.91,396.10 662.31,395.35 663.70,394.56 665.10,393.74 666.50,392.89 667.90,392.00 669.29,391.08 670.69,390.13 672.09,389.14 673.49,388.12 674.88,387.06 676.28,385.98 677.68,384.86 679.08,383.71 680.47,382.53 681.87,381.32 683.27,380.08 684.67,378.82 686.06,377.52 687.46,376.19 688.86,374.84 690.26,373.46 691.65,372.05 693.05,370.61 694.45,369.15 695.85,367.66 697.24,366.15 698.64,364.61 700.04,363.04 701.44,361.45 702.83,359.84 704.23,358.21 705.63,356.55 707.03,354.87 708.42,353.16 709.82,351.44 711.22,349.69 712.62,347.92 714.01,346.14 715.41,344.33 716.81,342.50 718.21,340.65 719.60,338.78 721.00,336.90 722.40,334.99 723.80,333.07 725.19,331.13 726.59,329.17 727.99,327.20 729.39,325.20 730.78,323.20 732.18,321.17 733.58,319.13 734.98,317.08 736.37,315.01 737.77,312.92 739.17,310.82 740.57,308.71 741.96,306.58 743.36,304.45 744.76,302.29 746.16,300.13 747.55,297.95 748.95,295.77 750.35,293.57 751.75,291.36 753.14,289.15 754.54,286.92 755.94,284.69 757.34,282.45 758.73,280.20 760.13,277.94 761.53,275.68 762.93,273.41 764.32,271.14 765.72,268.86 767.12,266.58 768.52,264.29 769.91,262.00 771.31,259.71 772.71,257.42 774.11,255.12 775.50,252.83 776.90,250.53" fill="none" stroke="#ff0000" stroke-width="4.8" stroke-linecap="round" stroke-dasharray="13.2 9.85 0 9.85"/><path d="M219.3,336.0L358.7,82.8" fill="none" stroke="#505050" stroke-width="4.0" stroke-linecap="round" stroke-dasharray="17.30 25.10" stroke-dashoffset="41.10"/><path d="M358.7,82.8L498.1,272.9" fill="none" stroke="#505050" stroke-width="4.0" stroke-linecap="round" stroke-dasharray="17.30 25.10" stroke-dashoffset="35.30"/><path d="M498.1,272.9L637.5,106.2" fill="none" stroke="#505050" stroke-width="4.0" stroke-linecap="round" stroke-dasharray="17.30 25.10" stroke-dashoffset="17.20"/><path d="M637.5,106.2L776.9,221.6" fill="none" stroke="#505050" stroke-width="4.0" stroke-linecap="round" stroke-dasharray="17.30 25.10" stroke-dashoffset="22.10"/><circle cx="219.3" cy="336.0" r="10" fill="url(#ball)"/><circle cx="358.7" cy="82.8" r="10" fill="url(#ball)"/><circle cx="498.1" cy="272.9" r="10" fill="url(#ball)"/><circle cx="637.5" cy="106.2" r="10" fill="url(#ball)"/><circle cx="776.9" cy="221.6" r="10" fill="url(#ball)"/><rect x="636" y="475" width="1.3" height="1.3" fill="#d0707a"/></g><rect x="79.6" y="13.1" width="767.1" height="617.6999999999999" fill="none" stroke="#000" stroke-width="2.6"/><path d="M79.6,630.80H91.10M79.6,507.26H91.10M79.6,383.72H91.10M79.6,260.18H91.10M79.6,136.64H91.10M79.6,13.10H91.10M79.6,569.03H85.60M79.6,445.49H85.60M79.6,321.95H85.60M79.6,198.41H85.60M79.6,74.87H85.60M219.30,630.8V618.00M358.70,630.8V618.00M498.10,630.8V618.00M637.50,630.8V618.00M776.90,630.8V618.00M149.60,630.8V624.80M289.00,630.8V624.80M428.40,630.8V624.80M567.80,630.8V624.80M707.20,630.8V624.80M846.60,630.8V624.80M846.7,630.80H834.20M846.7,507.26H834.20M846.7,383.72H834.20M846.7,260.18H834.20M846.7,136.64H834.20M846.7,13.10H834.20M846.7,569.03H840.20M846.7,445.49H840.20M846.7,321.95H840.20M846.7,198.41H840.20M846.7,74.87H840.20" stroke="#000" stroke-width="2.3" fill="none"/><text x="65" y="637.80" font-family="Liberation Serif" font-size="25" text-anchor="end">15</text><text x="65" y="514.26" font-family="Liberation Serif" font-size="25" text-anchor="end">20</text><text x="65" y="390.72" font-family="Liberation Serif" font-size="25" text-anchor="end">25</text><text x="65" y="267.18" font-family="Liberation Serif" font-size="25" text-anchor="end">30</text><text x="65" y="143.64" font-family="Liberation Serif" font-size="25" text-anchor="end">35</text><text x="65" y="20.10" font-family="Liberation Serif" font-size="25" text-anchor="end">40</text><text x="79.90" y="663.3" font-family="Liberation Serif" font-size="25" text-anchor="middle">0</text><text x="219.30" y="663.3" font-family="Liberation Serif" font-size="25" text-anchor="middle">1</text><text x="358.70" y="663.3" font-family="Liberation Serif" font-size="25" text-anchor="middle">2</text><text x="498.10" y="663.3" font-family="Liberation Serif" font-size="25" text-anchor="middle">3</text><text x="637.50" y="663.3" font-family="Liberation Serif" font-size="25" text-anchor="middle">4</text><text x="776.90" y="663.3" font-family="Liberation Serif" font-size="25" text-anchor="middle">5</text><text x="860.3" y="637.60" font-family="Liberation Serif" font-size="25">0</text><text x="860.3" y="514.06" font-family="Liberation Serif" font-size="25">20</text><text x="860.3" y="390.52" font-family="Liberation Serif" font-size="25">40</text><text x="860.3" y="266.98" font-family="Liberation Serif" font-size="25">60</text><text x="860.3" y="143.44" font-family="Liberation Serif" font-size="25">80</text><text x="860.3" y="19.90" font-family="Liberation Serif" font-size="25">100</text><text x="463.2" y="704.9" font-family="Liberation Serif" font-size="32.3" text-anchor="middle">Measurement point</text><text transform="translate(26.1,321.4) rotate(-90)" x="0" y="0" font-family="Liberation Serif" font-size="32.1" text-anchor="middle">Soil temperature (°C)</text><text transform="translate(934.6,321.6) rotate(-90)" x="0" y="0" font-family="Liberation Serif" font-size="32.3" text-anchor="middle">Radon reduction efficiency (%)</text><text x="89" y="98.4" font-family="Liberation Serif" font-size="29">High temperature</text><text x="91" y="579.8" font-family="Liberation Serif" font-size="29">Low temperature</text><text x="759" y="450.9" font-family="Liberation Serif" font-size="29">21.50</text><line x1="149.3" y1="269.4" x2="149.3" y2="130" stroke="#000" stroke-width="2.5"/><path d="M149.3,116.4 L154.2,132.3 L144.4,132.3 Z" fill="#000" stroke="#000" stroke-width="1" stroke-linejoin="round"/><line x1="146.4" y1="393" x2="146.4" y2="527" stroke="#000" stroke-width="2.5"/><path d="M146.4,541.5 L151.4,525.6 L141.4,525.6 Z" fill="#000" stroke="#000" stroke-width="1" stroke-linejoin="round"/><path d="M84.5,34.8H140" stroke="#0000ff" stroke-width="5.7" stroke-linecap="round" stroke-dasharray="0 10.9"/><text x="155" y="43.6" font-family="Liberation Serif" font-size="29">RC</text><path d="M217.7,34.8H275" stroke="#ff0000" stroke-width="4.8" stroke-linecap="round" stroke-dasharray="13.2 9.85 0 9.85"/><text x="289.5" y="43.6" font-family="Liberation Serif" font-size="29">RC-BC</text><path d="M399.2,34.8H407.6M442.9,34.8H451.5" stroke="#000" stroke-width="2.6" stroke-linecap="round"/><circle cx="419.8" cy="34.8" r="1.5" fill="#000"/><circle cx="463.6" cy="34.8" r="1.5" fill="#000"/><circle cx="431.2" cy="34.8" r="7.2" fill="url(#ball)"/><text x="471.5" y="43.4" font-family="Liberation Serif" font-size="29">Radon reduction efficiency</text></svg></body></html>
